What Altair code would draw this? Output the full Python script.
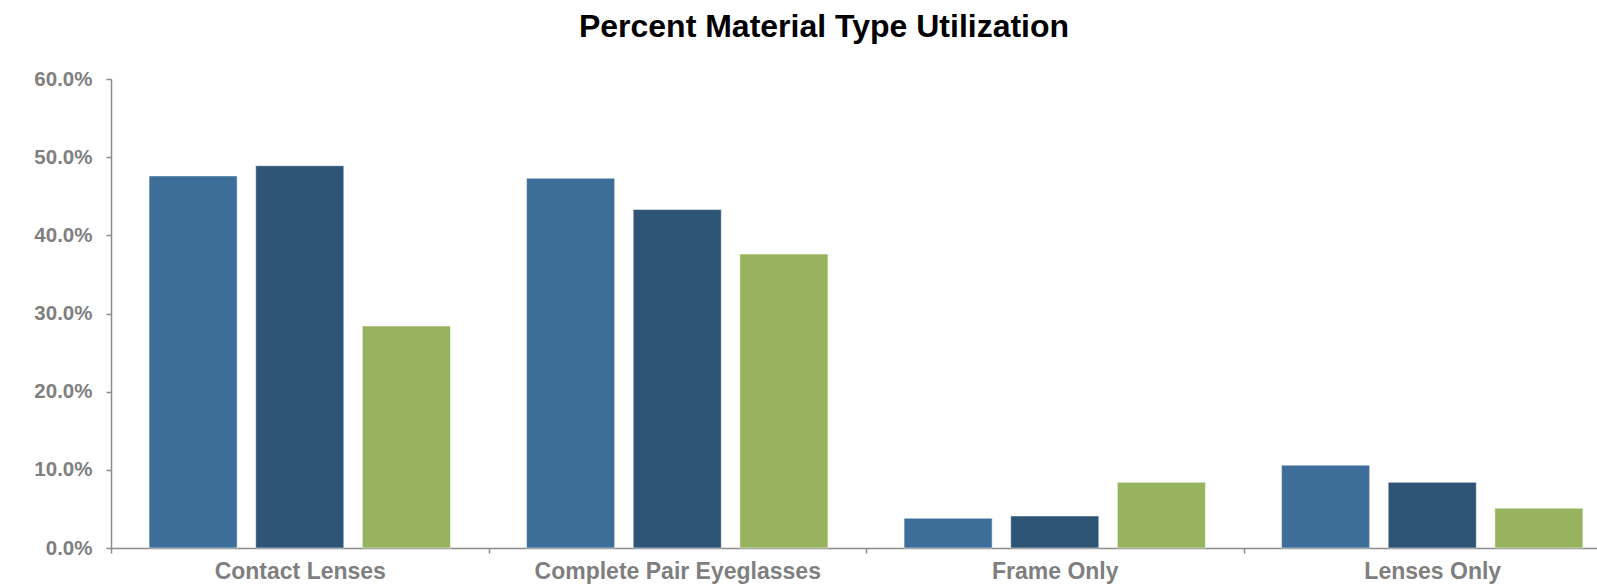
import altair as alt
import pandas as pd

categories = ["Contact Lenses", "Complete Pair Eyeglasses", "Frame Only", "Lenses Only"]
series_names = ["Series 1", "Series 2", "Series 3"]
series_1 = [0.476, 0.473, 0.038, 0.106]
series_2 = [0.489, 0.433, 0.041, 0.084]
series_3 = [0.284, 0.376, 0.084, 0.051]
colors = ["#3D6E99", "#2E5576", "#98B35E"]

rows = []
for name, vals in zip(series_names, [series_1, series_2, series_3]):
    for c, v in zip(categories, vals):
        rows.append({"category": c, "series": name, "value": v})
df = pd.DataFrame(rows)

FONT = "Liberation Sans"

chart = alt.Chart(df).mark_bar(
    stroke="white", strokeWidth=1, strokeOpacity=0.5
).encode(
    x=alt.X("category:N", sort=categories, title=None,
            scale=alt.Scale(range=[0, 1510], paddingInner=0, paddingOuter=0),
            axis=alt.Axis(labelAngle=0, tickBand="extent", tickSize=5, labelPadding=7,
                          labelFontSize=23, labelFontWeight="bold", labelColor="#7F7F7F",
                          labelFont=FONT, labelLimit=600, domainColor="#8C8C8C", tickColor="#8C8C8C",
                          domainWidth=1.5, tickWidth=1.5)),
    xOffset=alt.XOffset("series:N", sort=series_names,
                        scale=alt.Scale(paddingInner=0.174, paddingOuter=0.357)),
    y=alt.Y("value:Q", title=None,
            scale=alt.Scale(domain=[0, 0.6], nice=False),
            axis=alt.Axis(format=".1%", values=[0, 0.1, 0.2, 0.3, 0.4, 0.5, 0.6],
                          tickSize=5, labelPadding=14, grid=False,
                          labelFontSize=20.5, labelFontWeight="bold", labelColor="#7F7F7F",
                          labelFont=FONT, domainColor="#8C8C8C", tickColor="#8C8C8C",
                          domainWidth=1.5, tickWidth=1.5)),
    color=alt.Color("series:N", sort=series_names,
                    scale=alt.Scale(domain=series_names, range=colors), legend=None),
).properties(
    width=1486,
    height=469,
    background="white",
    title=alt.TitleParams("Percent Material Type Utilization", font=FONT, fontSize=32,
                          fontWeight="bold", color="#000000", anchor="middle",
                          frame="group", dx=-30, baseline="alphabetic", offset=0),
    autosize=alt.AutoSizeParams(type="none"),
    padding={"left": 111, "top": 79, "right": 0, "bottom": 37},
).configure_view(stroke="transparent", strokeWidth=0)

chart.save("out.html", embed_options={"renderer": "svg", "actions": False})
